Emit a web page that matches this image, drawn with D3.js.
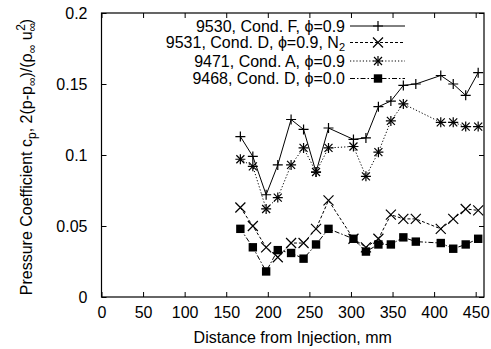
<!DOCTYPE html>
<html><head><meta charset="utf-8">
<script src="https://cdn.jsdelivr.net/npm/d3@7"></script>
<style>
body{margin:0;background:#fff;}
text{font-family:"Liberation Sans",Arial,Helvetica,sans-serif;fill:#000;}
</style></head>
<body><svg id="c" width="491" height="349"></svg>
<script>
const xTicks = [0,50,100,150,200,250,300,350,400,450];
const yTicks = [0,0.05,0.1,0.15,0.2];
const yTickLabels = ["0","0.05","0.1","0.15","0.2"];

const xF = [167,182,198,212,228,243,258,273,303,318,333,348,363,378,408,423,438,453];
const yF = [0.113,0.099,0.072,0.093,0.125,0.118,0.088,0.119,0.111,0.112,0.134,0.138,0.149,0.150,0.156,0.150,0.142,0.158];

const xN = [167,182,198,212,228,243,258,273,303,318,333,348,363,378,408,423,438,453];
const yN = [0.063,0.050,0.035,0.028,0.038,0.038,0.048,0.068,0.041,0.035,0.041,0.058,0.055,0.055,0.048,0.055,0.062,0.061];

const xA = [167,182,198,212,228,243,258,273,303,318,333,348,363,408,423,438,453];
const yA = [0.097,0.092,0.062,0.070,0.093,0.105,0.088,0.105,0.106,0.085,0.102,0.124,0.136,0.123,0.123,0.120,0.120];

const xD = [167,182,198,212,228,243,258,273,303,318,333,348,363,378,408,423,438,453];
const yD = [0.048,0.035,0.018,0.033,0.031,0.027,0.037,0.048,0.041,0.032,0.037,0.037,0.042,0.039,0.038,0.034,0.037,0.041];

const legendLabels = ["9530, Cond. F, ϕ=0.9","9531, Cond. D, ϕ=0.9, N","9471, Cond. A, ϕ=0.9","9468, Cond. D, ϕ=0.0"];

const svg = d3.select("#c");
const L=101.5, R=484, T=13, B=297;
const x = d3.scaleLinear().domain([0,460]).range([L,R]);
const y = d3.scaleLinear().domain([0,0.2]).range([B,T]);

svg.append("rect").attr("x",L).attr("y",T).attr("width",R-L).attr("height",B-T)
  .attr("fill","none").attr("stroke","#000").attr("stroke-width",1.2);

const fmtY = (d,i)=>yTickLabels[i];
svg.append("g").attr("transform",`translate(0,${B})`)
  .call(d3.axisBottom(x).tickValues(xTicks).tickSizeInner(-5).tickSizeOuter(0).tickPadding(10))
  .call(g=>{g.select(".domain").remove();g.selectAll("text").attr("font-size",16).attr("dy","0.71em");});
svg.append("g").attr("transform",`translate(0,${T})`)
  .call(d3.axisTop(x).tickValues(xTicks).tickSizeInner(-5).tickSizeOuter(0).tickFormat(""))
  .call(g=>g.select(".domain").remove());
svg.append("g").attr("transform",`translate(${L},0)`)
  .call(d3.axisLeft(y).tickValues(yTicks).tickSizeInner(-5).tickSizeOuter(0).tickPadding(14).tickFormat(fmtY))
  .call(g=>{g.select(".domain").remove();g.selectAll("text").attr("font-size",16);});
svg.append("g").attr("transform",`translate(${R},0)`)
  .call(d3.axisRight(y).tickValues(yTicks).tickSizeInner(-5).tickSizeOuter(0).tickFormat(""))
  .call(g=>g.select(".domain").remove());
svg.selectAll(".tick line").attr("stroke","#000");

svg.append("text").attr("x",(L+R)/2).attr("y",343).attr("text-anchor","middle")
  .attr("font-size",16).text("Distance from Injection, mm");
const yt = svg.append("text").attr("transform",`translate(32,${(T+B)/2+2}) rotate(-90)`)
  .attr("text-anchor","middle").attr("font-size",16);
yt.append("tspan").text("Pressure Coefficient c");
yt.append("tspan").attr("font-size",12).attr("dy",4).text("p");
yt.append("tspan").attr("dy",-4).text(", 2(p-p");
yt.append("tspan").attr("font-size",12).attr("dy",4).text("∞");
yt.append("tspan").attr("dy",-4).text(")/(ρ");
yt.append("tspan").attr("font-size",12).attr("dy",4).text("∞");
yt.append("tspan").attr("dy",-4).text(" u");
yt.append("tspan").attr("font-size",12).attr("dy",4).text("∞");
yt.append("tspan").attr("font-size",12).attr("dy",-11).attr("dx",-8).text("2");
yt.append("tspan").attr("dy",7).text(")");

function marker(g, type, cx, cy){
  const s=5;
  if(type==="plus"||type==="star"){
    g.append("path").attr("d",`M${cx-s},${cy}H${cx+s}M${cx},${cy-s}V${cy+s}`).attr("stroke","#000").attr("stroke-width",1.2).attr("fill","none");
  }
  if(type==="cross"||type==="star"){
    const c=type==="star"?4:5;
    g.append("path").attr("d",`M${cx-c},${cy-c}L${cx+c},${cy+c}M${cx-c},${cy+c}L${cx+c},${cy-c}`).attr("stroke","#000").attr("stroke-width",1.2).attr("fill","none");
  }
  if(type==="square"){
    g.append("rect").attr("x",cx-4.2).attr("y",cy-4.2).attr("width",8.4).attr("height",8.4).attr("fill","#000");
  }
}

const series = [
  {xs:xF, ys:yF, dash:null, m:"plus", sub:null},
  {xs:xN, ys:yN, dash:"3,2", m:"cross", sub:"2"},
  {xs:xA, ys:yA, dash:"1.2,2", m:"star", sub:null},
  {xs:xD, ys:yD, dash:"5,2,1.5,2", m:"square", sub:null},
];
const rowY = [26, 42.5, 61, 78.5];

const line = d3.line().x(d=>x(d[0])).y(d=>y(d[1]));
series.forEach((s,i)=>{
  const pts = s.xs.map((v,j)=>[v,s.ys[j]]);
  svg.append("path").datum(pts).attr("d",line).attr("fill","none")
    .attr("stroke","#000").attr("stroke-width",1).attr("stroke-dasharray",s.dash);
  const g = svg.append("g");
  pts.forEach(p=>marker(g,s.m,x(p[0]),y(p[1])));
  const ly = rowY[i];
  const t = svg.append("text").attr("x",345).attr("y",ly).attr("dy","0.35em")
    .attr("text-anchor","end").attr("font-size",16);
  t.append("tspan").text(legendLabels[i]);
  if(s.sub) t.append("tspan").attr("font-size",11).attr("dy",3).text(s.sub);
  svg.append("line").attr("x1",350).attr("x2",405).attr("y1",ly).attr("y2",ly)
    .attr("stroke","#000").attr("stroke-width",1).attr("stroke-dasharray",s.dash);
  marker(svg.append("g"),s.m,378,ly);
});
</script></body></html>
